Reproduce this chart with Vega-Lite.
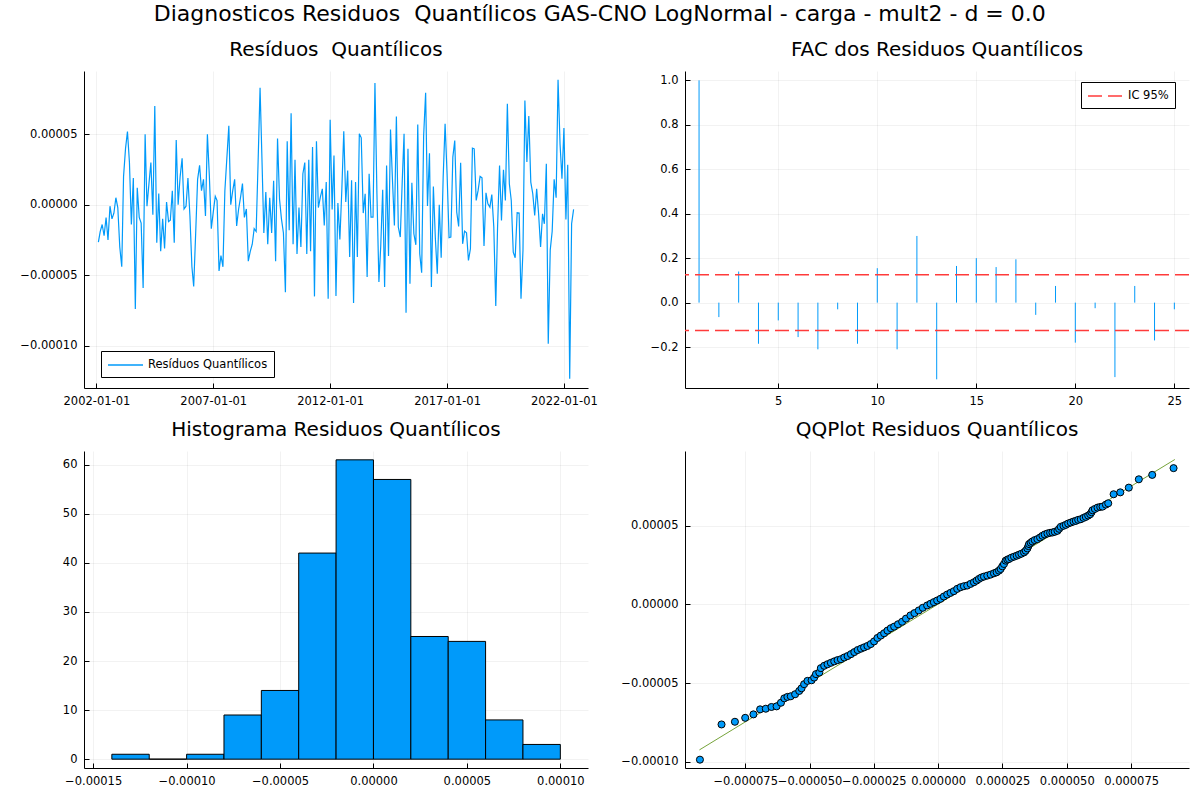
{
  "$schema": "https://vega.github.io/schema/vega-lite/v6.json",
  "background": "white",
  "padding": {"left": 19, "top": 3, "right": 5, "bottom": 5},
  "title": {
    "text": "Diagnosticos Residuos\u00a0 Quantílicos GAS-CNO LogNormal - carga - mult2 - d = 0.0",
    "fontSize": 22, "font": "DejaVu Sans", "fontWeight": "normal", "color": "black",
    "anchor": "middle", "offset": 14, "dx": -5
  },
  "datasets": {
    "res": [
      {"d":"2002-02-01","r":-2.65e-5},{"d":"2002-03-01","r":-1.9e-5},{"d":"2002-04-01","r":-1.4e-5},{"d":"2002-05-01","r":-2.2e-5},{"d":"2002-06-01","r":-0.9e-5},{"d":"2002-07-01","r":-2.5e-5},{"d":"2002-08-01","r":-0.1e-5},{"d":"2002-09-01","r":-1.0e-5},{"d":"2002-10-01","r":-0.6e-5},{"d":"2002-11-01","r":0.5e-5},{"d":"2002-12-01","r":-0.2e-5},
      {"d":"2003-01-01","r":-3.0e-5},{"d":"2003-02-01","r":-4.4e-5},{"d":"2003-03-01","r":2.0e-5},{"d":"2003-04-01","r":4.0e-5},{"d":"2003-05-01","r":5.2e-5},{"d":"2003-06-01","r":3.0e-5},{"d":"2003-07-01","r":-1.4e-5},{"d":"2003-08-01","r":1.9e-5},{"d":"2003-09-01","r":-7.4e-5},{"d":"2003-10-01","r":1.2e-5},{"d":"2003-11-01","r":-0.9e-5},{"d":"2003-12-01","r":-1.3e-5},
      {"d":"2004-01-01","r":-5.9e-5},{"d":"2004-02-01","r":5.0e-5},{"d":"2004-03-01","r":-0.1e-5},{"d":"2004-04-01","r":1.5e-5},{"d":"2004-05-01","r":3.0e-5},{"d":"2004-06-01","r":-0.7e-5},{"d":"2004-07-01","r":7.0e-5},{"d":"2004-08-01","r":-2.7e-5},{"d":"2004-09-01","r":0.8e-5},{"d":"2004-10-01","r":-3.3e-5},{"d":"2004-11-01","r":-1.0e-5},{"d":"2004-12-01","r":-3.1e-5},
      {"d":"2005-01-01","r":0.2e-5},{"d":"2005-02-01","r":-1.2e-5},{"d":"2005-03-01","r":-1.1e-5},{"d":"2005-04-01","r":1.0e-5},{"d":"2005-05-01","r":-2.7e-5},{"d":"2005-06-01","r":4.6e-5},{"d":"2005-07-01","r":0},{"d":"2005-08-01","r":2.0e-5},{"d":"2005-09-01","r":3.3e-5},{"d":"2005-10-01","r":-0.3e-5},{"d":"2005-11-01","r":-0.1e-5},{"d":"2005-12-01","r":1.9e-5},
      {"d":"2006-01-01","r":-0.8e-5},{"d":"2006-02-01","r":-4.4e-5},{"d":"2006-03-01","r":-5.8e-5},{"d":"2006-04-01","r":-2.0e-5},{"d":"2006-05-01","r":1.8e-5},{"d":"2006-06-01","r":2.8e-5},{"d":"2006-07-01","r":1.0e-5},{"d":"2006-08-01","r":1.8e-5},{"d":"2006-09-01","r":-0.8e-5},{"d":"2006-10-01","r":5.0e-5},{"d":"2006-11-01","r":2.0e-5},{"d":"2006-12-01","r":-1.7e-5},
      {"d":"2007-01-01","r":-0.5e-5},{"d":"2007-02-01","r":0.6e-5},{"d":"2007-03-01","r":0.3e-5},{"d":"2007-04-01","r":-4.7e-5},{"d":"2007-05-01","r":-3.6e-5},{"d":"2007-06-01","r":-4.4e-5},{"d":"2007-07-01","r":1.0e-5},{"d":"2007-08-01","r":3.3e-5},{"d":"2007-09-01","r":5.6e-5},{"d":"2007-10-01","r":0},{"d":"2007-11-01","r":1.0e-5},{"d":"2007-12-01","r":1.8e-5},
      {"d":"2008-01-01","r":-1.5e-5},{"d":"2008-02-01","r":-0.3e-5},{"d":"2008-03-01","r":0.5e-5},{"d":"2008-04-01","r":1.5e-5},{"d":"2008-05-01","r":-0.9e-5},{"d":"2008-06-01","r":-0.3e-5},{"d":"2008-07-01","r":-4.0e-5},{"d":"2008-08-01","r":-3.3e-5},{"d":"2008-09-01","r":-2.8e-5},{"d":"2008-10-01","r":-1.7e-5},{"d":"2008-11-01","r":-1.9e-5},{"d":"2008-12-01","r":3.0e-5},
      {"d":"2009-01-01","r":8.3e-5},{"d":"2009-02-01","r":3.0e-5},{"d":"2009-03-01","r":-2.0e-5},{"d":"2009-04-01","r":0.9e-5},{"d":"2009-05-01","r":-2.8e-5},{"d":"2009-06-01","r":0.5e-5},{"d":"2009-07-01","r":-2.0e-5},{"d":"2009-08-01","r":1.7e-5},{"d":"2009-09-01","r":-4.0e-5},{"d":"2009-10-01","r":4.7e-5},{"d":"2009-11-01","r":0.4e-5},{"d":"2009-12-01","r":-1.0e-5},
      {"d":"2010-01-01","r":-2.0e-5},{"d":"2010-02-01","r":-6.2e-5},{"d":"2010-03-01","r":4.5e-5},{"d":"2010-04-01","r":-1.8e-5},{"d":"2010-05-01","r":6.5e-5},{"d":"2010-06-01","r":-2.8e-5},{"d":"2010-07-01","r":3.2e-5},{"d":"2010-08-01","r":-3.5e-5},{"d":"2010-09-01","r":-0.2e-5},{"d":"2010-10-01","r":-3.0e-5},{"d":"2010-11-01","r":2.2e-5},{"d":"2010-12-01","r":3.0e-5},
      {"d":"2011-01-01","r":-3.5e-5},{"d":"2011-02-01","r":3.2e-5},{"d":"2011-03-01","r":-3.3e-5},{"d":"2011-04-01","r":4.1e-5},{"d":"2011-05-01","r":-6.5e-5},{"d":"2011-06-01","r":4.5e-5},{"d":"2011-07-01","r":-0.2e-5},{"d":"2011-08-01","r":0.54e-5},{"d":"2011-09-01","r":1.13e-5},{"d":"2011-10-01","r":-1.47e-5},{"d":"2011-11-01","r":1.61e-5},{"d":"2011-12-01","r":-6.67e-5},
      {"d":"2012-01-01","r":6.03e-5},{"d":"2012-02-01","r":-0.33e-5},{"d":"2012-03-01","r":3.5e-5},{"d":"2012-04-01","r":-6.48e-5},{"d":"2012-05-01","r":0.12e-5},{"d":"2012-06-01","r":-2.46e-5},{"d":"2012-07-01","r":1.0e-5},{"d":"2012-08-01","r":5.22e-5},{"d":"2012-09-01","r":0.19e-5},{"d":"2012-10-01","r":2.43e-5},{"d":"2012-11-01","r":-3.71e-5},{"d":"2012-12-01","r":1.73e-5},
      {"d":"2013-01-01","r":-6.97e-5},{"d":"2013-02-01","r":1.61e-5},{"d":"2013-03-01","r":-3.71e-5},{"d":"2013-04-01","r":5.04e-5},{"d":"2013-05-01","r":4.75e-5},{"d":"2013-06-01","r":-0.59e-5},{"d":"2013-07-01","r":0.78e-5},{"d":"2013-08-01","r":-5.13e-5},{"d":"2013-09-01","r":2.2e-5},{"d":"2013-10-01","r":-0.87e-5},{"d":"2013-11-01","r":-0.87e-5},{"d":"2013-12-01","r":8.63e-5},
      {"d":"2014-01-01","r":0.78e-5},{"d":"2014-02-01","r":-5.48e-5},{"d":"2014-03-01","r":-3.0e-5},{"d":"2014-04-01","r":1.06e-5},{"d":"2014-05-01","r":-5.84e-5},{"d":"2014-06-01","r":2.79e-5},{"d":"2014-07-01","r":-3.64e-5},{"d":"2014-08-01","r":5.34e-5},{"d":"2014-09-01","r":1.73e-5},{"d":"2014-10-01","r":-1.47e-5},{"d":"2014-11-01","r":6.26e-5},{"d":"2014-12-01","r":-1.58e-5},
      {"d":"2015-01-01","r":-2.29e-5},{"d":"2015-02-01","r":1.73e-5},{"d":"2015-03-01","r":5.04e-5},{"d":"2015-04-01","r":-7.66e-5},{"d":"2015-05-01","r":3.97e-5},{"d":"2015-06-01","r":-5.6e-5},{"d":"2015-07-01","r":1.56e-5},{"d":"2015-08-01","r":-2.06e-5},{"d":"2015-09-01","r":-2.84e-5},{"d":"2015-10-01","r":5.7e-5},{"d":"2015-11-01","r":-3.48e-5},{"d":"2015-12-01","r":-4.82e-5},
      {"d":"2016-01-01","r":4.92e-5},{"d":"2016-02-01","r":7.94e-5},{"d":"2016-03-01","r":-0.09e-5},{"d":"2016-04-01","r":3.66e-5},{"d":"2016-05-01","r":-5.84e-5},{"d":"2016-06-01","r":1.3e-5},{"d":"2016-07-01","r":-2.29e-5},{"d":"2016-08-01","r":-4.89e-5},{"d":"2016-09-01","r":0},{"d":"2016-10-01","r":-3.76e-5},{"d":"2016-11-01","r":1.96e-5},{"d":"2016-12-01","r":5.74e-5},
      {"d":"2017-01-01","r":2.2e-5},{"d":"2017-02-01","r":-2.34e-5},{"d":"2017-03-01","r":-2.29e-5},{"d":"2017-04-01","r":3.38e-5},{"d":"2017-05-01","r":4.56e-5},{"d":"2017-06-01","r":-0.52e-5},{"d":"2017-07-01","r":-1.54e-5},{"d":"2017-08-01","r":2.98e-5},{"d":"2017-09-01","r":-2.77e-5},{"d":"2017-10-01","r":-1.87e-5},{"d":"2017-11-01","r":-1.99e-5},{"d":"2017-12-01","r":-3.95e-5},
      {"d":"2018-01-01","r":-3.12e-5},{"d":"2018-02-01","r":4.02e-5},{"d":"2018-03-01","r":3.97e-5},{"d":"2018-04-01","r":0.31e-5},{"d":"2018-05-01","r":1.02e-5},{"d":"2018-06-01","r":2.01e-5},{"d":"2018-07-01","r":1.91e-5},{"d":"2018-08-01","r":-2.93e-5},{"d":"2018-09-01","r":0.85e-5},{"d":"2018-10-01","r":0.07e-5},{"d":"2018-11-01","r":-0.17e-5},{"d":"2018-12-01","r":0.73e-5},
      {"d":"2019-01-01","r":-1.58e-5},{"d":"2019-02-01","r":-7.19e-5},{"d":"2019-03-01","r":-1.58e-5},{"d":"2019-04-01","r":2.79e-5},{"d":"2019-05-01","r":-1.11e-5},{"d":"2019-06-01","r":2.48e-5},{"d":"2019-07-01","r":0.31e-5},{"d":"2019-08-01","r":7.16e-5},{"d":"2019-09-01","r":1.49e-5},{"d":"2019-10-01","r":0.3e-5},{"d":"2019-11-01","r":-3.36e-5},{"d":"2019-12-01","r":-3.76e-5},
      {"d":"2020-01-01","r":-0.57e-5},{"d":"2020-02-01","r":-0.59e-5},{"d":"2020-03-01","r":-6.67e-5},{"d":"2020-04-01","r":-3.24e-5},{"d":"2020-05-01","r":7.4e-5},{"d":"2020-06-01","r":3.03e-5},{"d":"2020-07-01","r":6.29e-5},{"d":"2020-08-01","r":1.61e-5},{"d":"2020-09-01","r":0.78e-5},{"d":"2020-10-01","r":-0.76e-5},{"d":"2020-11-01","r":1.13e-5},{"d":"2020-12-01","r":-0.64e-5},
      {"d":"2021-01-01","r":-3.0e-5},{"d":"2021-02-01","r":-0.64e-5},{"d":"2021-03-01","r":-1.35e-5},{"d":"2021-04-01","r":2.91e-5},{"d":"2021-05-01","r":-9.86e-5},{"d":"2021-06-01","r":-3.2e-5},{"d":"2021-07-01","r":-1.9e-5},{"d":"2021-08-01","r":1.8e-5},{"d":"2021-09-01","r":0.5e-5},{"d":"2021-10-01","r":8.87e-5},{"d":"2021-11-01","r":4.33e-5},{"d":"2021-12-01","r":1.84e-5},
      {"d":"2022-01-01","r":5.44e-5},{"d":"2022-02-01","r":-1.04e-5},{"d":"2022-03-01","r":2.84e-5},{"d":"2022-04-01","r":-12.34e-5},{"d":"2022-05-01","r":-1.35e-5},{"d":"2022-06-01","r":-0.33e-5}
    ],
    "acf": [
      {"lag":1,"acf":1.0},{"lag":2,"acf":-0.065},{"lag":3,"acf":0.14},{"lag":4,"acf":-0.185},{"lag":5,"acf":-0.08},
      {"lag":6,"acf":-0.155},{"lag":7,"acf":-0.21},{"lag":8,"acf":-0.03},{"lag":9,"acf":-0.185},{"lag":10,"acf":0.155},
      {"lag":11,"acf":-0.21},{"lag":12,"acf":0.30},{"lag":13,"acf":-0.345},{"lag":14,"acf":0.165},{"lag":15,"acf":0.20},
      {"lag":16,"acf":0.16},{"lag":17,"acf":0.195},{"lag":18,"acf":-0.055},{"lag":19,"acf":0.075},{"lag":20,"acf":-0.18},
      {"lag":21,"acf":-0.025},{"lag":22,"acf":-0.335},{"lag":23,"acf":0.075},{"lag":24,"acf":-0.17},{"lag":25,"acf":-0.03}
    ],
    "ci": [{"ci":0.125},{"ci":-0.125}],
    "hist": [
      {"lo":-14e-5,"hi":-12e-5,"n":1},{"lo":-12e-5,"hi":-10e-5,"n":0},{"lo":-10e-5,"hi":-8e-5,"n":1},
      {"lo":-8e-5,"hi":-6e-5,"n":9},{"lo":-6e-5,"hi":-4e-5,"n":14},{"lo":-4e-5,"hi":-2e-5,"n":42},
      {"lo":-2e-5,"hi":0,"n":61},{"lo":0,"hi":2e-5,"n":57},{"lo":2e-5,"hi":4e-5,"n":25},
      {"lo":4e-5,"hi":6e-5,"n":24},{"lo":6e-5,"hi":8e-5,"n":8},{"lo":8e-5,"hi":10e-5,"n":3}
    ],
    "qqline": [{"x":-9.28e-5,"y":-9.25e-5},{"x":9.2e-5,"y":9.22e-5}],
    "qq": [
      {"x":-9.26e-5,"y":-9.87e-5},{"x":-8.42e-5,"y":-7.63e-5},{"x":-7.90e-5,"y":-7.46e-5},{"x":-7.50e-5,"y":-7.21e-5},
      {"x":-7.18e-5,"y":-6.99e-5},{"x":-6.92e-5,"y":-6.67e-5},{"x":-6.70e-5,"y":-6.63e-5},{"x":-6.48e-5,"y":-6.52e-5},
      {"x":-6.28e-5,"y":-6.48e-5},{"x":-6.11e-5,"y":-6.25e-5},{"x":-5.98e-5,"y":-5.97e-5},{"x":-5.86e-5,"y":-5.88e-5},
      {"x":-5.73e-5,"y":-5.84e-5},{"x":-5.56e-5,"y":-5.71e-5},{"x":-5.40e-5,"y":-5.50e-5},{"x":-5.31e-5,"y":-5.33e-5},
      {"x":-5.21e-5,"y":-5.07e-5},{"x":-5.08e-5,"y":-4.86e-5},{"x":-4.92e-5,"y":-4.82e-5},{"x":-4.82e-5,"y":-4.65e-5},
      {"x":-4.75e-5,"y":-4.43e-5},{"x":-4.62e-5,"y":-4.33e-5},{"x":-4.56e-5,"y":-4.05e-5},{"x":-4.43e-5,"y":-3.90e-5},
      {"x":-4.30e-5,"y":-3.80e-5},{"x":-4.17e-5,"y":-3.71e-5},{"x":-4.04e-5,"y":-3.62e-5},{"x":-3.91e-5,"y":-3.54e-5},
      {"x":-3.78e-5,"y":-3.48e-5},{"x":-3.65e-5,"y":-3.37e-5},{"x":-3.52e-5,"y":-3.28e-5},{"x":-3.39e-5,"y":-3.16e-5},
      {"x":-3.26e-5,"y":-3.03e-5},{"x":-3.13e-5,"y":-2.90e-5},{"x":-3.00e-5,"y":-2.81e-5},{"x":-2.88e-5,"y":-2.73e-5},
      {"x":-2.75e-5,"y":-2.64e-5},{"x":-2.62e-5,"y":-2.52e-5},{"x":-2.49e-5,"y":-2.35e-5},{"x":-2.36e-5,"y":-2.13e-5},
      {"x":-2.23e-5,"y":-1.98e-5},{"x":-2.10e-5,"y":-1.83e-5},{"x":-1.97e-5,"y":-1.66e-5},{"x":-1.84e-5,"y":-1.51e-5},
      {"x":-1.71e-5,"y":-1.41e-5},{"x":-1.56e-5,"y":-1.26e-5},{"x":-1.40e-5,"y":-1.10e-5},{"x":-1.25e-5,"y":-0.90e-5},
      {"x":-1.078e-5,"y":-0.696e-5},{"x":-0.922e-5,"y":-0.549e-5},{"x":-0.753e-5,"y":-0.380e-5},{"x":-0.597e-5,"y":-0.211e-5},
      {"x":-0.429e-5,"y":-0.063e-5},{"x":-0.299e-5,"y":0.042e-5},{"x":-0.169e-5,"y":0.148e-5},{"x":-0.039e-5,"y":0.253e-5},
      {"x":0.091e-5,"y":0.359e-5},{"x":0.221e-5,"y":0.506e-5},{"x":0.351e-5,"y":0.633e-5},{"x":0.481e-5,"y":0.738e-5},
      {"x":0.610e-5,"y":0.844e-5},{"x":0.740e-5,"y":0.992e-5},{"x":0.870e-5,"y":1.097e-5},{"x":1.000e-5,"y":1.160e-5},
      {"x":1.130e-5,"y":1.203e-5},{"x":1.260e-5,"y":1.308e-5},{"x":1.390e-5,"y":1.413e-5},{"x":1.494e-5,"y":1.519e-5},
      {"x":1.584e-5,"y":1.624e-5},{"x":1.675e-5,"y":1.709e-5},{"x":1.779e-5,"y":1.772e-5},{"x":1.909e-5,"y":1.835e-5},
      {"x":2.039e-5,"y":1.899e-5},{"x":2.169e-5,"y":1.983e-5},{"x":2.273e-5,"y":2.046e-5},{"x":2.364e-5,"y":2.152e-5},
      {"x":2.429e-5,"y":2.257e-5},{"x":2.494e-5,"y":2.426e-5},{"x":2.558e-5,"y":2.574e-5},{"x":2.623e-5,"y":2.785e-5},
      {"x":2.688e-5,"y":2.848e-5},{"x":2.753e-5,"y":2.890e-5},{"x":2.844e-5,"y":2.975e-5},{"x":2.948e-5,"y":3.038e-5},
      {"x":3.052e-5,"y":3.101e-5},{"x":3.143e-5,"y":3.165e-5},{"x":3.234e-5,"y":3.228e-5},{"x":3.338e-5,"y":3.312e-5},
      {"x":3.403e-5,"y":3.418e-5},{"x":3.468e-5,"y":3.565e-5},{"x":3.506e-5,"y":3.713e-5},{"x":3.532e-5,"y":3.840e-5},
      {"x":3.597e-5,"y":3.924e-5},{"x":3.662e-5,"y":4.008e-5},{"x":3.753e-5,"y":4.093e-5},{"x":3.857e-5,"y":4.156e-5},
      {"x":3.961e-5,"y":4.262e-5},{"x":4.052e-5,"y":4.367e-5},{"x":4.143e-5,"y":4.451e-5},{"x":4.247e-5,"y":4.515e-5},
      {"x":4.351e-5,"y":4.557e-5},{"x":4.442e-5,"y":4.578e-5},{"x":4.532e-5,"y":4.620e-5},{"x":4.636e-5,"y":4.684e-5},
      {"x":4.701e-5,"y":4.810e-5},{"x":4.766e-5,"y":4.937e-5},{"x":4.870e-5,"y":5.000e-5},{"x":4.961e-5,"y":5.063e-5},
      {"x":5.052e-5,"y":5.148e-5},{"x":5.156e-5,"y":5.211e-5},{"x":5.260e-5,"y":5.274e-5},{"x":5.351e-5,"y":5.316e-5},
      {"x":5.442e-5,"y":5.380e-5},{"x":5.545e-5,"y":5.422e-5},{"x":5.649e-5,"y":5.506e-5},{"x":5.740e-5,"y":5.570e-5},
      {"x":5.831e-5,"y":5.654e-5},{"x":5.909e-5,"y":5.738e-5},{"x":5.961e-5,"y":5.865e-5},{"x":6.000e-5,"y":5.991e-5},
      {"x":6.091e-5,"y":6.076e-5},{"x":6.195e-5,"y":6.160e-5},{"x":6.299e-5,"y":6.202e-5},{"x":6.390e-5,"y":6.223e-5},
      {"x":6.519e-5,"y":6.350e-5},{"x":6.610e-5,"y":6.435e-5},{"x":6.82e-5,"y":7.01e-5},{"x":7.08e-5,"y":7.13e-5},
      {"x":7.41e-5,"y":7.43e-5},{"x":7.80e-5,"y":7.96e-5},{"x":8.32e-5,"y":8.24e-5},{"x":9.15e-5,"y":8.67e-5}
    ]
  },
  "config": {
    "font": "DejaVu Sans",
    "view": {"stroke": null},
    "axis": {
      "domainColor": "black", "domainWidth": 1,
      "tickColor": "black", "tickSize": -5, "tickWidth": 1,
      "labelPadding": 12, "labelFontSize": 11.5, "labelColor": "black", "labelFont": "DejaVu Sans",
      "gridColor": "black", "gridOpacity": 0.1, "gridWidth": 0.5,
      "labelOverlap": false, "labelFlush": false, "labelBound": false
    },
    "title": {"fontSize": 20, "fontWeight": "normal", "color": "black", "font": "DejaVu Sans", "offset": 11}
  },
  "columns": 2,
  "bounds": "flush",
  "spacing": {"row": 63, "column": 97},
  "resolve": {"scale": {"color": "independent"}, "legend": {"color": "independent"}},
  "concat": [
    {
      "width": 504, "height": 317,
      "title": {"text": "Resíduos\u00a0 Quantílicos", "fontSize": 20, "offset": 11},
      "data": {"name": "res"},
      "mark": {"type": "line", "strokeWidth": 1.2, "clip": true},
      "encoding": {
        "x": {
          "field": "d", "type": "temporal",
          "scale": {"type": "utc", "domain": [{"year": 2001, "month": 6, "date": 21, "utc": true}, {"year": 2023, "month": 1, "date": 12, "utc": true}]},
          "axis": {
            "title": null,
            "values": [
              {"year": 2002, "month": 1, "date": 1, "utc": true},
              {"year": 2007, "month": 1, "date": 1, "utc": true},
              {"year": 2012, "month": 1, "date": 1, "utc": true},
              {"year": 2017, "month": 1, "date": 1, "utc": true},
              {"year": 2022, "month": 1, "date": 1, "utc": true}
            ],
            "labelExpr": "utcFormat(datum.value, '%Y-%m-%d')"
          }
        },
        "y": {
          "field": "r", "type": "quantitative",
          "scale": {"domain": [-0.00013, 0.0000949], "nice": false, "zero": false},
          "axis": {"title": null, "values": [-0.0001, -0.00005, 0, 0.00005], "format": ".5f"}
        },
        "color": {
          "datum": "Resíduos Quantílicos",
          "scale": {"range": ["#009AFA"]},
          "legend": {
            "orient": "none", "legendX": 17, "legendY": 280, "title": null,
            "symbolType": "M-1,0H4", "symbolSize": 196, "symbolStrokeWidth": 1.5,
            "labelFontSize": 11.5, "labelFont": "DejaVu Sans", "labelColor": "black", "labelOffset": 25,
            "strokeColor": "black", "fillColor": "white", "padding": 6
          }
        }
      }
    },
    {
      "width": 504, "height": 317,
      "title": {"text": "FAC dos Residuos Quantílicos", "fontSize": 20, "offset": 11},
      "layer": [
        {
          "data": {"name": "acf"},
          "mark": {"type": "rule", "strokeWidth": 1, "color": "#009AFA"},
          "encoding": {
            "x": {
              "field": "lag", "type": "quantitative",
              "scale": {"domain": [0.29, 25.74], "nice": false, "zero": false},
              "axis": {"title": null, "values": [5, 10, 15, 20, 25], "format": "d"}
            },
            "y": {
              "field": "acf", "type": "quantitative",
              "scale": {"domain": [-0.384, 1.042], "nice": false, "zero": false},
              "axis": {"title": null, "values": [-0.2, 0, 0.2, 0.4, 0.6, 0.8, 1.0], "format": ".1f"}
            },
            "y2": {"datum": 0}
          }
        },
        {
          "data": {"name": "ci"},
          "mark": {"type": "rule", "strokeWidth": 1.5, "strokeDash": [14, 6]},
          "encoding": {
            "y": {"field": "ci", "type": "quantitative"},
            "color": {
              "datum": "IC 95%",
              "scale": {"range": ["#FF3B3B"]},
              "legend": {
                "orient": "none", "legendX": 396, "legendY": 11, "title": null,
                "symbolType": "M-1,0H4", "symbolSize": 196, "symbolStrokeWidth": 1.5, "symbolDash": [14, 6],
                "labelFontSize": 11.5, "labelFont": "DejaVu Sans", "labelColor": "black", "labelOffset": 25,
                "strokeColor": "black", "fillColor": "white", "padding": 6
              }
            }
          }
        }
      ]
    },
    {
      "width": 504, "height": 317,
      "title": {"text": "Histograma Residuos Quantílicos", "fontSize": 20, "offset": 11},
      "data": {"name": "hist"},
      "mark": {"type": "bar", "fill": "#009AFA", "stroke": "black", "strokeWidth": 1},
      "encoding": {
        "x": {
          "field": "lo", "type": "quantitative",
          "scale": {"domain": [-0.0001549, 0.0001148], "nice": false, "zero": false},
          "axis": {"title": null, "values": [-0.00015, -0.0001, -0.00005, 0, 0.00005, 0.0001], "format": ".5f"}
        },
        "x2": {"field": "hi"},
        "y": {
          "field": "n", "type": "quantitative",
          "scale": {"domain": [-1.8, 62.8], "nice": false, "zero": false},
          "axis": {"title": null, "values": [0, 10, 20, 30, 40, 50, 60], "format": "d"}
        },
        "y2": {"datum": 0}
      }
    },
    {
      "width": 504, "height": 317,
      "title": {"text": "QQPlot Residuos Quantílicos", "fontSize": 20, "offset": 11},
      "layer": [
        {
          "data": {"name": "qqline"},
          "mark": {"type": "line", "color": "#76A33A", "strokeWidth": 1},
          "encoding": {
            "x": {
              "field": "x", "type": "quantitative",
              "scale": {"domain": [-0.0000984, 0.0000975], "nice": false, "zero": false},
              "axis": {"title": null, "values": [-0.000075, -0.00005, -0.000025, 0, 0.000025, 0.00005, 0.000075], "format": ".6f"}
            },
            "y": {
              "field": "y", "type": "quantitative",
              "scale": {"domain": [-0.000104, 0.0000976], "nice": false, "zero": false},
              "axis": {"title": null, "values": [-0.0001, -0.00005, 0, 0.00005], "format": ".5f"}
            }
          }
        },
        {
          "data": {"name": "qq"},
          "mark": {"type": "circle", "size": 50, "fill": "#009AFA", "fillOpacity": 1, "stroke": "black", "strokeWidth": 1, "opacity": 1},
          "encoding": {
            "x": {"field": "x", "type": "quantitative"},
            "y": {"field": "y", "type": "quantitative"}
          }
        }
      ]
    }
  ]
}
